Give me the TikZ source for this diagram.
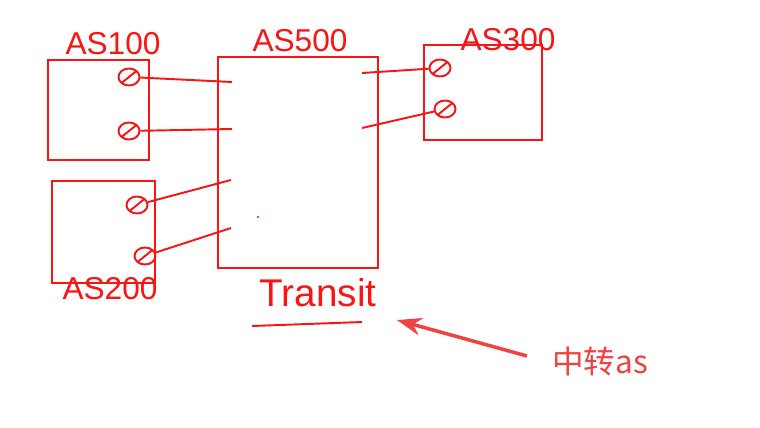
\documentclass[tikz,border=0pt]{standalone}
\usepackage{fontspec}
\setmainfont{Liberation Sans}
\newfontfamily\cjk{Noto Sans CJK SC}
\usetikzlibrary{shapes.geometric,arrows.meta}

\definecolor{pen}{RGB}{250,20,20}
\definecolor{note}{RGB}{240,66,66}

\tikzset{
  asbox/.style={draw=pen,line width=1.1pt,rectangle,inner sep=0pt},
  aslabel/.style={text=pen,font=\fontsize{18}{20}\selectfont,inner sep=0pt},
  port/.style={draw=pen,line width=1.1pt,ellipse,inner sep=0pt,
    minimum width=0.42cm,minimum height=0.34cm,
    path picture={\draw[pen,line width=1.1pt] (path picture bounding box.south west) -- (path picture bounding box.north east);}},
  wire/.style={pen,line width=1.1pt}
}

\begin{document}
\begin{tikzpicture}[x=0.02cm,y=-0.02cm]
\useasboundingbox (0,0) rectangle (760,427);

% the four ASes
\path (98.5,110) node[asbox,minimum width=2.02cm,minimum height=2.0cm](as100){} ;
\path (103.5,232) node[asbox,minimum width=2.06cm,minimum height=2.04cm](as200){} ;
\path (298,162.5) node[asbox,minimum width=3.2cm,minimum height=4.22cm](as500){} ;
\path (483,92.5) node[asbox,minimum width=2.36cm,minimum height=1.9cm](as300){} ;

\path (113,44) node[aslabel](l100){AS100} ;
\path (110,289) node[aslabel](l200){AS200} ;
\path (300,41) node[aslabel](l500){AS500} ;
\path (508,40) node[aslabel](l300){AS300} ;

% ports
\path (129,77) node[port](p1){} ;
\path (129,131) node[port](p2){} ;
\path (137,205) node[port](p3){} ;
\path (145,256) node[port](p4){} ;
\path (440,68) node[port](q1){} ;
\path (445,109) node[port](q2){} ;

\coordinate (a1) at (232,82);
\coordinate (a2) at (232,129);
\coordinate (a3) at (231,180);
\coordinate (a4) at (231,228);
\coordinate (b1) at (362,73);
\coordinate (b2) at (362,128);

\draw[wire] (p1) -- (a1);
\draw[wire] (p2) -- (a2);
\draw[wire] (p3) -- (a3);
\draw[wire] (p4) -- (a4);
\draw[wire] (b1) -- (q1);
\draw[wire] (b2) -- (q2);

\fill[pen] (258,217) circle (1.2);

% transit label and note
\path (318,293) node[text=pen,font=\fontsize{22}{24}\selectfont,inner sep=0pt](trans){Transit} ;
\draw[wire] (252,326) -- (362,322);

\path (600,361) node[text=note,font=\cjk\fontsize{18}{20}\selectfont,inner sep=0pt](ann){中转as} ;
\coordinate (tail) at (527,356);
\coordinate (tip) at (397,320);
\draw[note,line width=2pt,-{Stealth[length=14pt,width=10pt]}] (tail) -- (tip);

\end{tikzpicture}
\end{document}
